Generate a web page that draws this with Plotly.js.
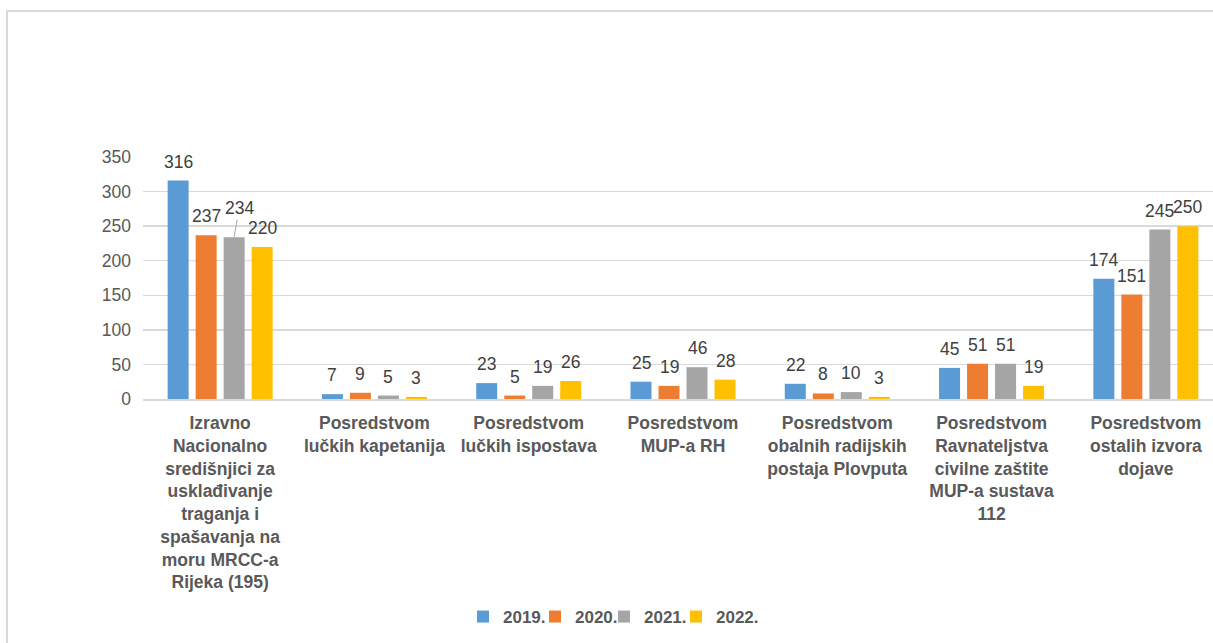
<!DOCTYPE html>
<html>
<head>
<meta charset="utf-8">
<script src="https://cdn.plot.ly/plotly-3.0.1.min.js"></script>
<style>
  html, body { margin: 0; padding: 0; background: #ffffff; overflow: hidden; }
  #wrap { position: relative; width: 1213px; height: 643px; overflow: hidden; }
  #chart { position: absolute; left: 0; top: 0; width: 1240px; height: 643px; }
  #frame { position: absolute; left: 6px; top: 10px; width: 1300px; height: 700px;
           border: 2px solid #d9d9d9; pointer-events: none; box-sizing: border-box; }
</style>
</head>
<body>
<div id="wrap">
  <div id="chart"></div>
  <div id="frame"></div>
</div>
<script>
const categories = [
  "Izravno<br>Nacionalno<br>središnjici za<br>usklađivanje<br>traganja i<br>spašavanja na<br>moru MRCC-a<br>Rijeka (195)",
  "Posredstvom<br>lučkih kapetanija",
  "Posredstvom<br>lučkih ispostava",
  "Posredstvom<br>MUP-a RH",
  "Posredstvom<br>obalnih radijskih<br>postaja Plovputa",
  "Posredstvom<br>Ravnateljstva<br>civilne zaštite<br>MUP-a sustava<br>112",
  "Posredstvom<br>ostalih izvora<br>dojave"
];
const seriesNames = ["2019.", "2020.", "2021.", "2022."];
const values2019 = [316, 7, 23, 25, 22, 45, 174];
const values2020 = [237, 9, 5, 19, 8, 51, 151];
const values2021 = [234, 5, 19, 46, 10, 51, 245];
const values2022 = [220, 3, 26, 28, 3, 19, 250];
const yTicks = [0, 50, 100, 150, 200, 250, 300, 350];

const seriesValues = [values2019, values2020, values2021, values2022];
const colors = ["#5B9BD5", "#ED7D31", "#A5A5A5", "#FFC000"];
const legendIds = ["legend", "legend2", "legend3", "legend4"];
const legendLeftPx = [463, 535, 604, 676];

const bargap = 0.274;
const slot = (1 - bargap) / 4;
const FONT = "Liberation Sans, Arial, sans-serif";
const W = 1240, H = 643;

const traces = seriesValues.map((vals, j) => ({
  type: "bar",
  name: seriesNames[j],
  x: categories,
  y: vals,
  legend: legendIds[j],
  marker: { color: colors[j] },
  hoverinfo: "x+y"
}));

const annotations = [];
seriesValues.forEach((vals, j) => {
  vals.forEach((v, i) => {
    const xpos = i + (j - 1.5) * slot;
    const special = (j === 2 && i === 0);
    if (special) {
      annotations.push({
        x: xpos, y: v, xref: "x", yref: "y",
        text: String(v), showarrow: true, arrowhead: 0,
        arrowwidth: 1, arrowcolor: "#a6a6a6",
        ax: 5, ay: -29, standoff: 0, startstandoff: 0,
        font: { family: FONT, size: 17.5, color: "#404040" }
      });
    } else {
      annotations.push({
        x: xpos, y: v, xref: "x", yref: "y",
        text: String(v), showarrow: false,
        yanchor: "bottom", yshift: 7,
        font: { family: FONT, size: 17.5, color: "#404040" }
      });
    }
  });
});

const layout = {
  width: W,
  height: H,
  margin: { l: 143, r: 17, t: 157, b: 244, pad: 0, autoexpand: false },
  paper_bgcolor: "rgba(0,0,0,0)",
  plot_bgcolor: "#ffffff",
  barmode: "group",
  bargap: bargap,
  bargroupgap: 0.25,
  font: { family: FONT, size: 17, color: "#595959" },
  xaxis: {
    type: "category",
    showgrid: false,
    showline: true,
    linecolor: "#d9d9d9",
    linewidth: 2,
    ticks: "",
    tickangle: 0,
    automargin: false,
    ticklabelstandoff: 7,
    tickfont: { family: FONT, size: 17.5, color: "#595959", weight: "bold" }
  },
  yaxis: {
    range: [0, 350],
    tickvals: yTicks,
    ticktext: yTicks.map(String),
    showgrid: true,
    gridcolor: "#d9d9d9",
    gridwidth: 1.5,
    zeroline: false,
    showline: false,
    ticks: "",
    ticklabelstandoff: 11,
    automargin: false,
    tickfont: { family: FONT, size: 17.5, color: "#595959" }
  },
  showlegend: true,
  annotations: annotations
};

legendIds.forEach((id, j) => {
  layout[id] = {
    orientation: "h",
    xref: "container", yref: "container",
    x: legendLeftPx[j] / W, xanchor: "left",
    y: 1 - 617 / H, yanchor: "middle",
    bgcolor: "rgba(0,0,0,0)",
    font: { family: FONT, size: 17, color: "#595959", weight: "bold" },
    itemclick: false
  };
});

Plotly.newPlot("chart", traces, layout, { displayModeBar: false, staticPlot: true });
</script>
</body>
</html>
